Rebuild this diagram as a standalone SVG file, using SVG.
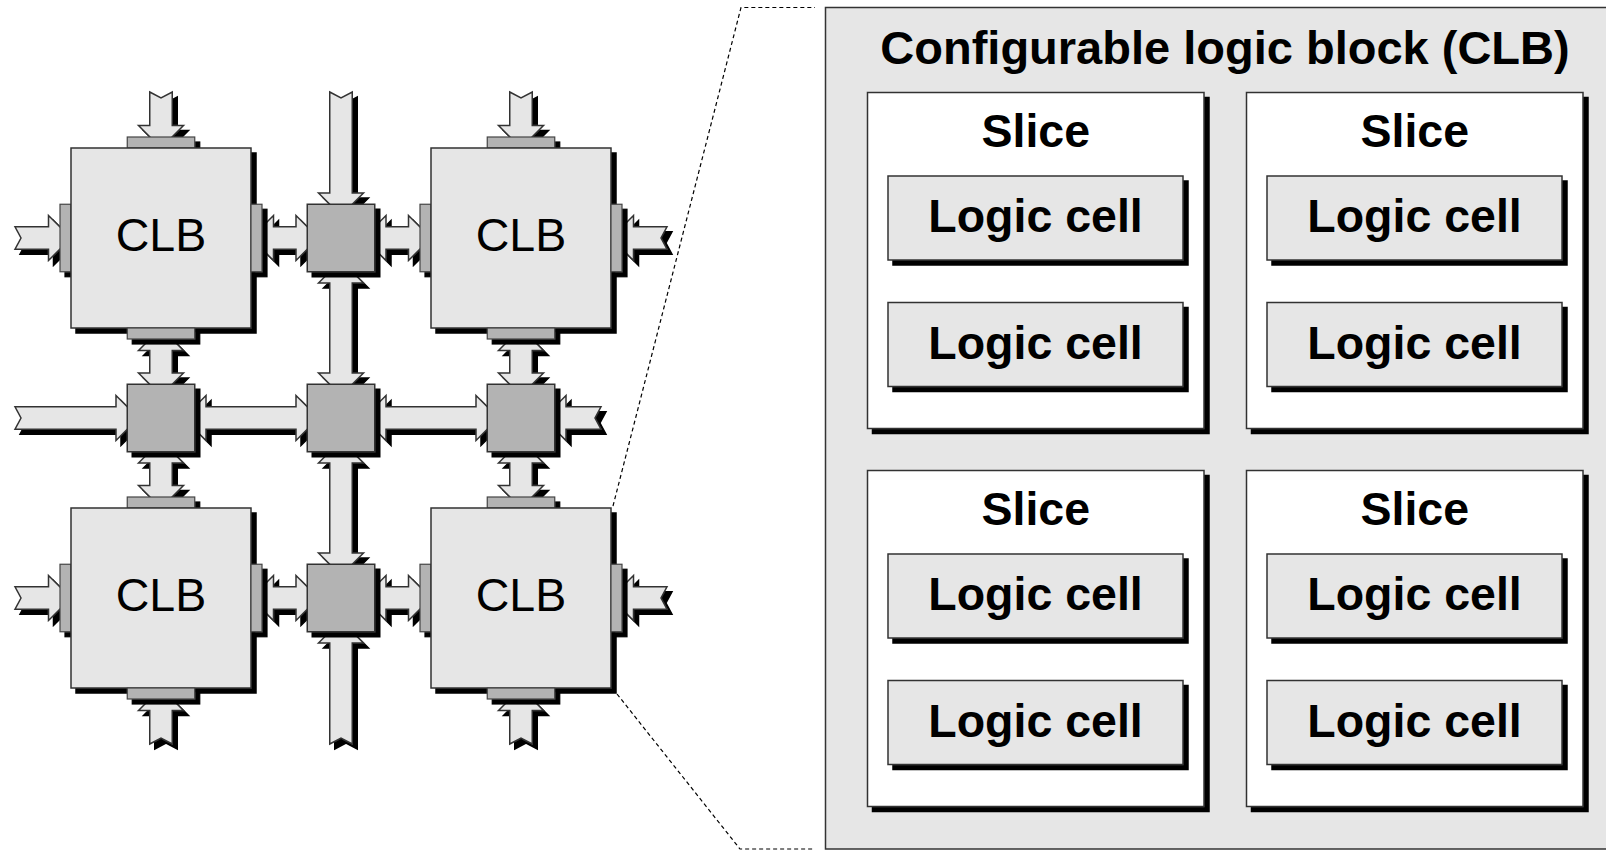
<svg xmlns="http://www.w3.org/2000/svg" width="1606" height="851" viewBox="0 0 1606 851">
<defs>
<filter id="ds" filterUnits="userSpaceOnUse" x="-20" y="-20" width="1700" height="900">
<feOffset in="SourceAlpha" dx="5" dy="5" result="o"/>
<feFlood flood-color="#000"/>
<feComposite in2="o" operator="in"/>
<feMerge><feMergeNode/><feMergeNode in="SourceGraphic"/></feMerge>
</filter>
<style>
.arr{fill:#e6e6e6;stroke:#333;stroke-width:1.5;stroke-linejoin:miter;filter:url(#ds)}
.clb{fill:#e6e6e6;stroke:#333;stroke-width:1.5;filter:url(#ds)}
.sb{fill:#b3b3b3;stroke:#333;stroke-width:1.5;filter:url(#ds)}
.pad{fill:#b3b3b3;stroke:#444;stroke-width:1.2;filter:url(#ds)}
.slice{fill:#fff;stroke:#333;stroke-width:1.5;filter:url(#ds)}
.cell{fill:#e6e6e6;stroke:#333;stroke-width:1.5;filter:url(#ds)}
.panel{fill:#e6e6e6;stroke:#333;stroke-width:1.5}
.t{font-family:"Liberation Sans",Arial,sans-serif;font-size:46.5px;fill:#000;text-anchor:middle}
.b{font-weight:bold}
.dash{fill:none;stroke:#000;stroke-width:1.2;stroke-dasharray:4,3}
</style>
</defs>
<rect width="1606" height="851" fill="#fff"/>

<g id="connectors">
<polygon class="arr" points="149.75,92 161,98 172.25,92 172.25,125.5 183.5,125.5 161,148 138.5,125.5 149.75,125.5"/>
<polygon class="arr" points="161,328 183.5,350.5 172.25,350.5 172.25,373 183.5,373 161,395.5 138.5,373 149.75,373 149.75,350.5 138.5,350.5"/>
<polygon class="arr" points="161,440.5 183.5,463 172.25,463 172.25,485.5 183.5,485.5 161,508 138.5,485.5 149.75,485.5 149.75,463 138.5,463"/>
<polygon class="arr" points="149.75,744 161,738 172.25,744 172.25,710.5 183.5,710.5 161,688 138.5,710.5 149.75,710.5"/>
<polygon class="arr" points="329.75,92 341,98 352.25,92 352.25,193 363.5,193 341,215.5 318.5,193 329.75,193"/>
<polygon class="arr" points="341,260.5 363.5,283 352.25,283 352.25,373 363.5,373 341,395.5 318.5,373 329.75,373 329.75,283 318.5,283"/>
<polygon class="arr" points="341,440.5 363.5,463 352.25,463 352.25,553 363.5,553 341,575.5 318.5,553 329.75,553 329.75,463 318.5,463"/>
<polygon class="arr" points="329.75,744 341,738 352.25,744 352.25,643 363.5,643 341,620.5 318.5,643 329.75,643"/>
<polygon class="arr" points="509.75,92 521,98 532.25,92 532.25,125.5 543.5,125.5 521,148 498.5,125.5 509.75,125.5"/>
<polygon class="arr" points="521,328 543.5,350.5 532.25,350.5 532.25,373 543.5,373 521,395.5 498.5,373 509.75,373 509.75,350.5 498.5,350.5"/>
<polygon class="arr" points="521,440.5 543.5,463 532.25,463 532.25,485.5 543.5,485.5 521,508 498.5,485.5 509.75,485.5 509.75,463 498.5,463"/>
<polygon class="arr" points="509.75,744 521,738 532.25,744 532.25,710.5 543.5,710.5 521,688 498.5,710.5 509.75,710.5"/>
<polygon class="arr" points="15,226.75 48.5,226.75 48.5,215.5 71,238 48.5,260.5 48.5,249.25 15,249.25 21,238"/>
<polygon class="arr" points="251,238 273.5,215.5 273.5,226.75 296,226.75 296,215.5 318.5,238 296,260.5 296,249.25 273.5,249.25 273.5,260.5"/>
<polygon class="arr" points="363.5,238 386,215.5 386,226.75 408.5,226.75 408.5,215.5 431,238 408.5,260.5 408.5,249.25 386,249.25 386,260.5"/>
<polygon class="arr" points="667,226.75 633.5,226.75 633.5,215.5 611,238 633.5,260.5 633.5,249.25 667,249.25 661,238"/>
<polygon class="arr" points="15,406.75 116,406.75 116,395.5 138.5,418 116,440.5 116,429.25 15,429.25 21,418"/>
<polygon class="arr" points="183.5,418 206,395.5 206,406.75 296,406.75 296,395.5 318.5,418 296,440.5 296,429.25 206,429.25 206,440.5"/>
<polygon class="arr" points="363.5,418 386,395.5 386,406.75 476,406.75 476,395.5 498.5,418 476,440.5 476,429.25 386,429.25 386,440.5"/>
<polygon class="arr" points="601,406.75 566,406.75 566,395.5 543.5,418 566,440.5 566,429.25 601,429.25 595,418"/>
<polygon class="arr" points="15,586.75 48.5,586.75 48.5,575.5 71,598 48.5,620.5 48.5,609.25 15,609.25 21,598"/>
<polygon class="arr" points="251,598 273.5,575.5 273.5,586.75 296,586.75 296,575.5 318.5,598 296,620.5 296,609.25 273.5,609.25 273.5,620.5"/>
<polygon class="arr" points="363.5,598 386,575.5 386,586.75 408.5,586.75 408.5,575.5 431,598 408.5,620.5 408.5,609.25 386,609.25 386,620.5"/>
<polygon class="arr" points="667,586.75 633.5,586.75 633.5,575.5 611,598 633.5,620.5 633.5,609.25 667,609.25 661,598"/>
<path class="dash" d="M613,506 L741,7.5 L815,7.5"/>
<path class="dash" d="M617,694 L740,849 L815,849"/>
</g>

<g id="sb-1-0"><rect class="sb" x="307.25" y="204.25" width="67.5" height="67.5"/></g>
<g id="sb-0-1"><rect class="sb" x="127.25" y="384.25" width="67.5" height="67.5"/></g>
<g id="sb-1-1"><rect class="sb" x="307.25" y="384.25" width="67.5" height="67.5"/></g>
<g id="sb-2-1"><rect class="sb" x="487.25" y="384.25" width="67.5" height="67.5"/></g>
<g id="sb-1-2"><rect class="sb" x="307.25" y="564.25" width="67.5" height="67.5"/></g>

<g id="clb-0-0">
<rect class="pad" x="127.25" y="137" width="67.5" height="11"/>
<rect class="pad" x="60" y="204.25" width="11" height="67.5"/>
<rect class="clb" x="71" y="148" width="180" height="180"/>
<rect class="pad" x="251" y="204.25" width="11" height="67.5"/>
<rect class="pad" x="127.25" y="328" width="67.5" height="11"/>
<text class="t" x="161" y="251">CLB</text>
</g>
<g id="clb-1-0">
<rect class="pad" x="487.25" y="137" width="67.5" height="11"/>
<rect class="pad" x="420" y="204.25" width="11" height="67.5"/>
<rect class="clb" x="431" y="148" width="180" height="180"/>
<rect class="pad" x="611" y="204.25" width="11" height="67.5"/>
<rect class="pad" x="487.25" y="328" width="67.5" height="11"/>
<text class="t" x="521" y="251">CLB</text>
</g>
<g id="clb-0-1">
<rect class="pad" x="127.25" y="497" width="67.5" height="11"/>
<rect class="pad" x="60" y="564.25" width="11" height="67.5"/>
<rect class="clb" x="71" y="508" width="180" height="180"/>
<rect class="pad" x="251" y="564.25" width="11" height="67.5"/>
<rect class="pad" x="127.25" y="688" width="67.5" height="11"/>
<text class="t" x="161" y="611">CLB</text>
</g>
<g id="clb-1-1">
<rect class="pad" x="487.25" y="497" width="67.5" height="11"/>
<rect class="pad" x="420" y="564.25" width="11" height="67.5"/>
<rect class="clb" x="431" y="508" width="180" height="180"/>
<rect class="pad" x="611" y="564.25" width="11" height="67.5"/>
<rect class="pad" x="487.25" y="688" width="67.5" height="11"/>
<text class="t" x="521" y="611">CLB</text>
</g>

<g id="clb-detail">
<rect class="panel" x="825.5" y="7.5" width="820" height="841.5"/>
<text class="t b" x="1225" y="63.5" style="font-size:47px">Configurable logic block (CLB)</text>
</g>

<g id="slice-1">
<rect class="slice" x="867.5" y="92.5" width="336.5" height="336"/>
<text class="t b" x="1035.75" y="147">Slice</text>
<rect class="cell" x="888" y="176" width="295" height="84"/>
<text class="t b" x="1035.5" y="232">Logic cell</text>
<rect class="cell" x="888" y="302.5" width="295" height="84"/>
<text class="t b" x="1035.5" y="358.5">Logic cell</text>
</g>
<g id="slice-2">
<rect class="slice" x="1246.5" y="92.5" width="336.5" height="336"/>
<text class="t b" x="1414.75" y="147">Slice</text>
<rect class="cell" x="1267" y="176" width="295" height="84"/>
<text class="t b" x="1414.5" y="232">Logic cell</text>
<rect class="cell" x="1267" y="302.5" width="295" height="84"/>
<text class="t b" x="1414.5" y="358.5">Logic cell</text>
</g>
<g id="slice-3">
<rect class="slice" x="867.5" y="470.5" width="336.5" height="336"/>
<text class="t b" x="1035.75" y="525">Slice</text>
<rect class="cell" x="888" y="554" width="295" height="84"/>
<text class="t b" x="1035.5" y="610">Logic cell</text>
<rect class="cell" x="888" y="680.5" width="295" height="84"/>
<text class="t b" x="1035.5" y="736.5">Logic cell</text>
</g>
<g id="slice-4">
<rect class="slice" x="1246.5" y="470.5" width="336.5" height="336"/>
<text class="t b" x="1414.75" y="525">Slice</text>
<rect class="cell" x="1267" y="554" width="295" height="84"/>
<text class="t b" x="1414.5" y="610">Logic cell</text>
<rect class="cell" x="1267" y="680.5" width="295" height="84"/>
<text class="t b" x="1414.5" y="736.5">Logic cell</text>
</g>
</svg>
